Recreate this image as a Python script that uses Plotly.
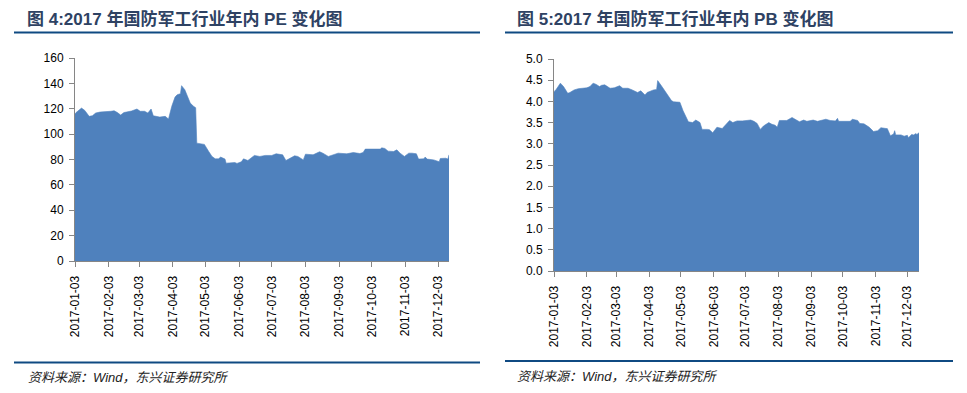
import plotly.graph_objects as go

# ---------------- data ----------------
pe_dates = ["2017-01-03","2017-01-04","2017-01-09","2017-01-12","2017-01-16","2017-01-19","2017-01-22","2017-01-26",
            "2017-02-05","2017-02-08","2017-02-11","2017-02-14","2017-02-17","2017-02-24","2017-03-01","2017-03-04",
            "2017-03-08","2017-03-11","2017-03-14","2017-03-16","2017-03-22","2017-03-27","2017-03-30","2017-04-02",
            "2017-04-05","2017-04-07","2017-04-10","2017-04-11","2017-04-14","2017-04-17","2017-04-19","2017-04-22",
            "2017-04-24","2017-04-25","2017-05-02","2017-05-06","2017-05-09","2017-05-12","2017-05-15","2017-05-17",
            "2017-05-21","2017-05-22","2017-05-26","2017-05-30","2017-06-01","2017-06-05","2017-06-07","2017-06-11",
            "2017-06-17","2017-06-22","2017-06-27","2017-07-03","2017-07-07","2017-07-13","2017-07-16","2017-07-20",
            "2017-07-24","2017-07-27","2017-08-01","2017-08-03","2017-08-10","2017-08-16","2017-08-19","2017-08-24",
            "2017-08-29","2017-09-02","2017-09-10","2017-09-16","2017-09-22","2017-09-25","2017-09-27","2017-10-11",
            "2017-10-12","2017-10-15","2017-10-18","2017-10-23","2017-10-26","2017-10-29","2017-11-02","2017-11-06",
            "2017-11-09","2017-11-13","2017-11-15","2017-11-20","2017-11-21","2017-11-23","2017-11-29","2017-12-04",
            "2017-12-05","2017-12-10","2017-12-12","2017-12-13"]
pe_values = [116, 117, 120.5, 118.7, 114, 114.5, 116.6, 117.4,
             118, 118.4, 117, 115, 117, 118.2, 119.8, 118,
             118, 116.6, 119.8, 114.5, 113.4, 114, 111.9, 121.9,
             129.2, 131, 131.9, 138.2, 135, 128.4, 124.5, 121.9,
             120.8, 92.9, 91.9, 86.3, 82.4, 80.5, 80.5, 81.9,
             80.3, 77.1, 77.6, 77.6, 76.9, 78.2, 80.5, 79.2,
             83.2, 82.4, 83.2, 83.2, 84.5, 83.7, 79.2, 81,
             82.9, 82.4, 79.7, 84.2, 83.7, 86.1, 85, 82.4,
             83.7, 85, 84.5, 85.5, 84.7, 85.5, 88.2, 88.2,
             89.2, 88.7, 86.6, 86.3, 87.6, 85, 82.4, 85,
             85, 84.5, 80.3, 80.5, 81.9, 80.3, 79.7, 78.2,
             80.8, 81, 80.3, 83.7]

pb_dates = ["2017-01-03","2017-01-05","2017-01-09","2017-01-12","2017-01-16","2017-01-18","2017-01-22","2017-01-26",
            "2017-02-03","2017-02-06","2017-02-09","2017-02-12","2017-02-15","2017-02-17","2017-02-20","2017-02-25",
            "2017-03-01","2017-03-06","2017-03-09","2017-03-14","2017-03-18","2017-03-23","2017-03-26","2017-03-30",
            "2017-04-01","2017-04-07","2017-04-10","2017-04-11","2017-04-15","2017-04-20","2017-04-24","2017-04-26",
            "2017-05-02","2017-05-05","2017-05-08","2017-05-10","2017-05-14","2017-05-17","2017-05-21","2017-05-23",
            "2017-05-28","2017-05-30","2017-06-02","2017-06-06","2017-06-11","2017-06-14","2017-06-18","2017-06-21",
            "2017-06-25","2017-06-30","2017-07-08","2017-07-11","2017-07-14","2017-07-17","2017-07-20","2017-07-25",
            "2017-07-28","2017-07-31","2017-08-02","2017-08-04","2017-08-11","2017-08-16","2017-08-19","2017-08-23",
            "2017-08-27","2017-08-30","2017-09-05","2017-09-09","2017-09-17","2017-09-21","2017-09-26","2017-09-28",
            "2017-09-29","2017-10-10","2017-10-12","2017-10-17","2017-10-19","2017-10-23","2017-10-28","2017-11-01",
            "2017-11-05","2017-11-08","2017-11-13","2017-11-14","2017-11-17","2017-11-20","2017-11-21","2017-11-22",
            "2017-11-27","2017-11-30","2017-12-03","2017-12-04","2017-12-07","2017-12-09","2017-12-11","2017-12-12",
            "2017-12-14"]
pb_values = [4.23, 4.28, 4.43, 4.35, 4.19, 4.21, 4.27, 4.30,
             4.32, 4.35, 4.43, 4.40, 4.35, 4.38, 4.39, 4.31,
             4.32, 4.37, 4.31, 4.31, 4.27, 4.21, 4.25, 4.15,
             4.21, 4.27, 4.28, 4.49, 4.35, 4.15, 4.02, 3.99,
             3.98, 3.78, 3.64, 3.52, 3.50, 3.56, 3.50, 3.34,
             3.34, 3.33, 3.26, 3.39, 3.36, 3.44, 3.55, 3.50,
             3.54, 3.54, 3.56, 3.53, 3.48, 3.34, 3.42, 3.50,
             3.46, 3.44, 3.39, 3.55, 3.55, 3.62, 3.58, 3.52,
             3.56, 3.53, 3.56, 3.53, 3.58, 3.55, 3.54, 3.60,
             3.53, 3.53, 3.58, 3.55, 3.48, 3.47, 3.39, 3.29,
             3.31, 3.38, 3.36, 3.36, 3.19, 3.23, 3.31, 3.21,
             3.21, 3.18, 3.20, 3.14, 3.22, 3.21, 3.24, 3.22,
             3.26]

month_ticks = ["2017-01-03","2017-02-03","2017-03-03","2017-04-03","2017-05-03","2017-06-03",
               "2017-07-03","2017-08-03","2017-09-03","2017-10-03","2017-11-03","2017-12-03"]

title_left = "图 4:2017 年国防军工行业年内 PE 变化图"
title_right = "图 5:2017 年国防军工行业年内 PB 变化图"
source_text = "资料来源：Wind，东兴证券研究所"

# ---------------- figure ----------------
OFF = 8                      # default page body margin
W, H = 967 - OFF, 393 - OFF
FILL = "#4f81bd"
AXIS = "#868686"
FONT = "Liberation Sans, Arial, Noto Sans CJK SC, sans-serif"

def px_x(x):
    return (x - OFF) / W

def px_y(y):
    return 1 - (y - OFF) / H

fig = go.Figure()
fig.add_trace(go.Scatter(x=pe_dates, y=pe_values, mode="lines", fill="tozeroy",
                         fillcolor=FILL, line=dict(color=FILL, width=0.6),
                         xaxis="x", yaxis="y", showlegend=False, hoverinfo="x+y"))
fig.add_trace(go.Scatter(x=pb_dates, y=pb_values, mode="lines", fill="tozeroy",
                         fillcolor=FILL, line=dict(color=FILL, width=0.6),
                         xaxis="x2", yaxis="y2", showlegend=False, hoverinfo="x+y"))

common_x = dict(type="date", tickmode="array", tickvals=month_ticks, ticktext=month_ticks,
                tickangle=-90, showline=True, linecolor=AXIS, linewidth=1, automargin=False,
                ticks="outside", ticklen=5, tickcolor=AXIS, showgrid=False, zeroline=False,
                ticklabelstandoff=4,
                tickfont=dict(family=FONT, size=12, color="#000000"))
common_y = dict(showline=True, linecolor=AXIS, linewidth=1, ticks="outside", ticklen=5,
                tickcolor=AXIS, showgrid=False, zeroline=False, automargin=False,
                ticklabelstandoff=3,
                tickfont=dict(family=FONT, size=12, color="#000000"))

fig.update_layout(
    width=W, height=H,
    margin=dict(l=0, r=0, t=0, b=0, autoexpand=False),
    paper_bgcolor="white", plot_bgcolor="white",
    xaxis=dict(common_x, domain=[px_x(75), px_x(449)], range=["2017-01-03", "2017-12-13"], anchor="y"),
    yaxis=dict(common_y, domain=[px_y(261), px_y(58)], range=[0, 160], dtick=20, anchor="x"),
    xaxis2=dict(common_x, domain=[px_x(554), px_x(919)], range=["2017-01-03", "2017-12-14"], anchor="y2"),
    yaxis2=dict(common_y, domain=[px_y(271), px_y(59)], range=[0, 5], dtick=0.5, tickformat=".1f", anchor="x2"),
)

LINE = "#0f4a82"
TITLE_C = "#2e4263"
shapes = []
for x0, x1, y in [(14, 480, 32.5), (505, 953, 32.5), (14, 480, 362.5), (505, 953, 361)]:
    shapes.append(dict(type="line", xref="paper", yref="paper",
                       x0=px_x(x0), x1=px_x(x1), y0=px_y(y), y1=px_y(y),
                       line=dict(color=LINE, width=2.2)))
fig.update_layout(shapes=shapes)

annots = []
for x, text in [(26, title_left), (516, title_right)]:
    annots.append(dict(xref="paper", yref="paper", x=px_x(x), y=px_y(19.5), xanchor="left", yanchor="middle",
                       text="<b>" + text + "</b>", showarrow=False, borderpad=0,
                       font=dict(family=FONT, size=17, color=TITLE_C)))
for x, y in [(26, 377), (515, 376)]:
    annots.append(dict(xref="paper", yref="paper", x=px_x(x), y=px_y(y), xanchor="left", yanchor="middle",
                       text="<i>" + source_text + "</i>", showarrow=False,
                       font=dict(family=FONT, size=13, color="#222222")))
fig.update_layout(annotations=annots)

fig.write_html("out.html")
